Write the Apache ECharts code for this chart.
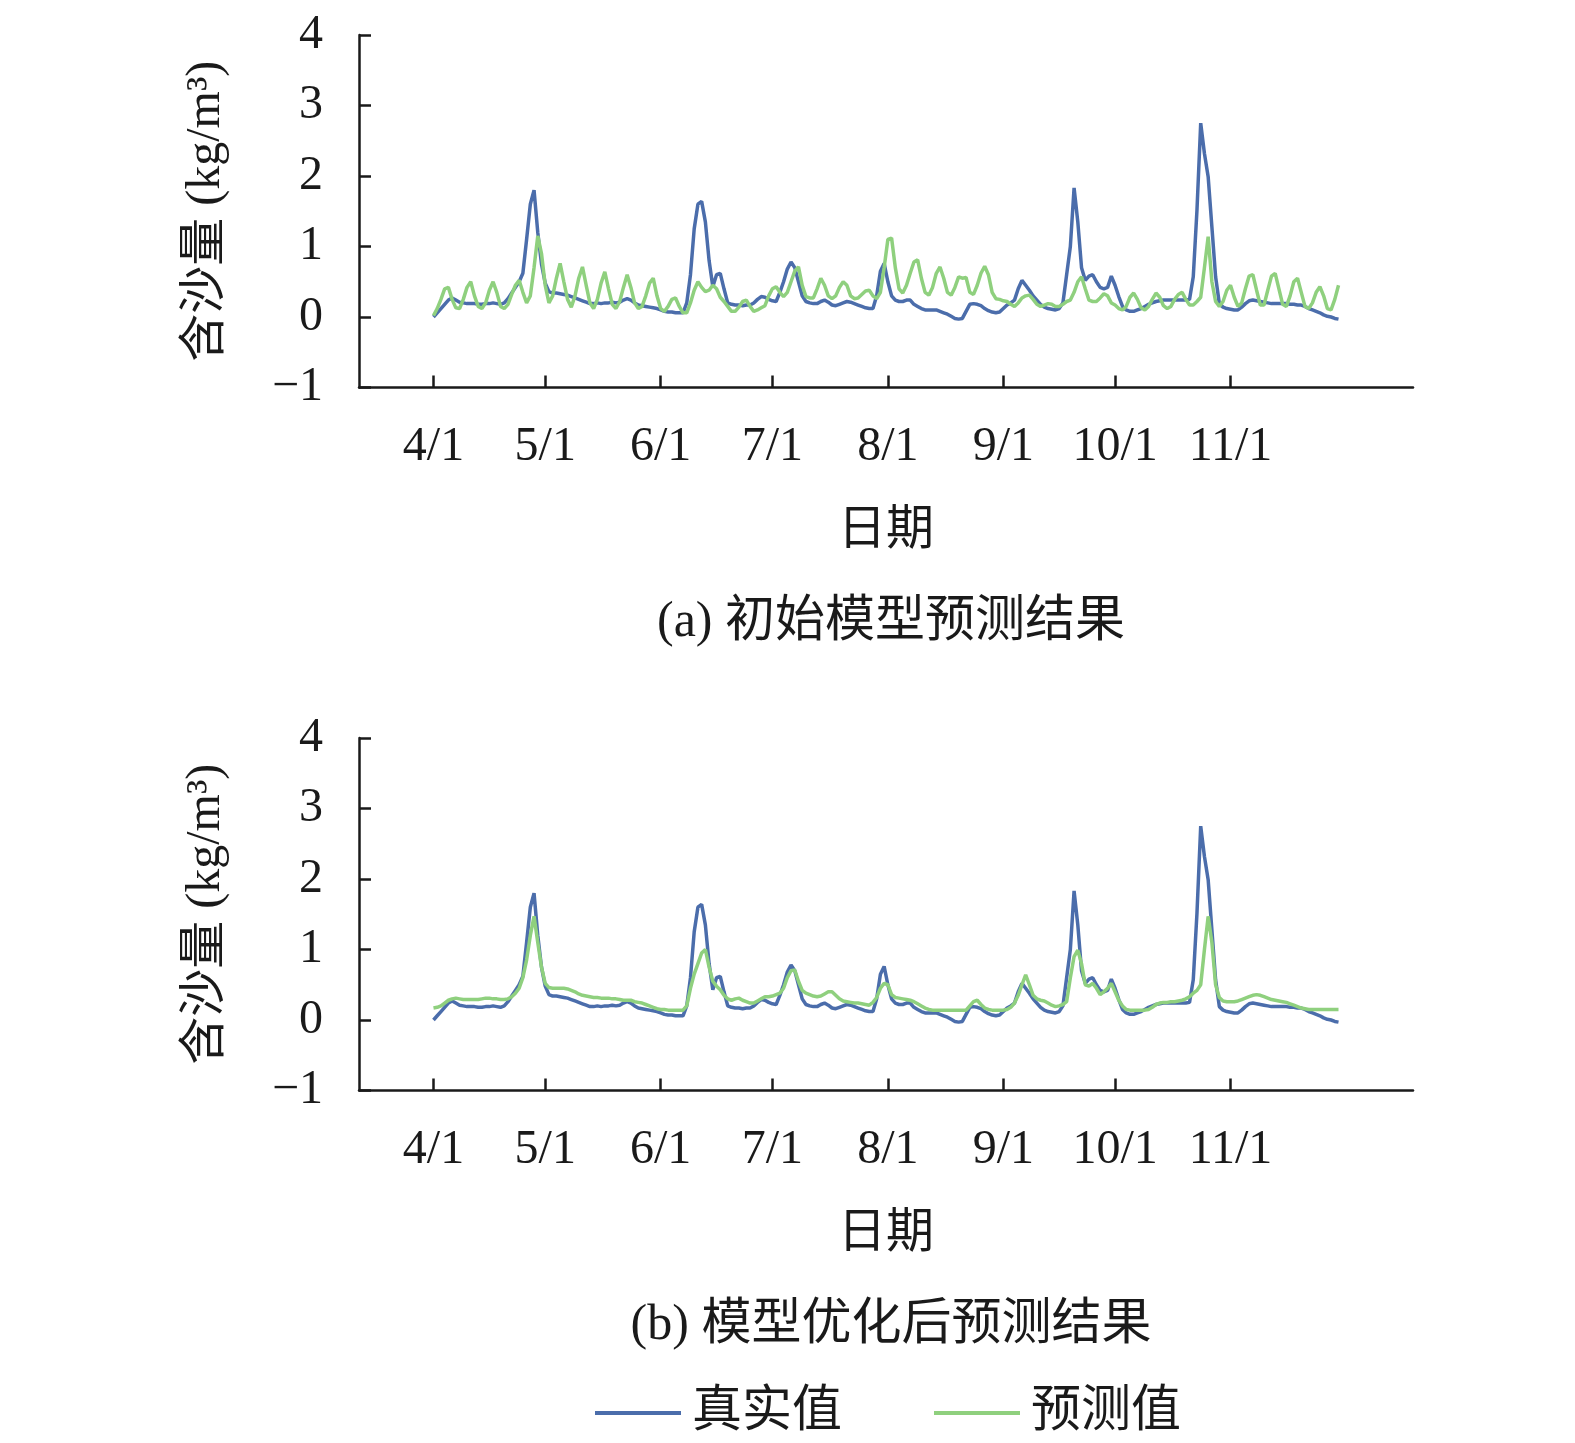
<!DOCTYPE html>
<html lang="zh">
<head>
<meta charset="UTF-8">
<title>含沙量预测结果</title>
<script src="https://cdn.jsdelivr.net/npm/echarts@6.0.0/dist/echarts.min.js"></script>
<style>
  html, body { margin: 0; padding: 0; background: #fff; }
  #chart { width: 1575px; height: 1443px; }
</style>
</head>
<body>
<div id="chart"></div>
<script>
// daily values, 4/1 .. 11/30 (244 days)
var realValues = [
  0.0, 0.06, 0.12, 0.18, 0.24, 0.27, 0.24, 0.21, 0.2, 0.19,
  0.19, 0.19, 0.18, 0.18, 0.19, 0.19, 0.2, 0.19, 0.18, 0.2,
  0.26, 0.34, 0.42, 0.5, 0.62, 1.1, 1.6, 1.8, 1.2, 0.75,
  0.48, 0.36, 0.34, 0.34, 0.33, 0.32, 0.31, 0.29, 0.27, 0.25,
  0.23, 0.21, 0.19, 0.19, 0.2, 0.19, 0.2, 0.2, 0.21, 0.2,
  0.21, 0.24, 0.26, 0.24, 0.2, 0.17, 0.16, 0.15, 0.14, 0.13,
  0.12, 0.1, 0.08, 0.07, 0.07, 0.06, 0.06, 0.06, 0.2, 0.6,
  1.25, 1.6, 1.64, 1.35, 0.8, 0.43, 0.6, 0.62, 0.4, 0.2,
  0.18, 0.17, 0.17, 0.16, 0.17, 0.17, 0.2, 0.25, 0.29, 0.28,
  0.25, 0.23, 0.22, 0.35, 0.5, 0.68, 0.78, 0.7, 0.5, 0.3,
  0.22, 0.2, 0.19, 0.19, 0.22, 0.24, 0.21, 0.17, 0.16, 0.18,
  0.2, 0.22, 0.21, 0.19, 0.17, 0.15, 0.13, 0.12, 0.12, 0.3,
  0.65, 0.76, 0.5, 0.3, 0.24, 0.22, 0.22, 0.24, 0.24, 0.18,
  0.15, 0.12, 0.1, 0.1, 0.1, 0.1, 0.08, 0.06, 0.04, 0.01,
  -0.02, -0.03, -0.02, 0.08, 0.18, 0.19, 0.18, 0.16, 0.12, 0.09,
  0.07, 0.06, 0.07, 0.12, 0.17, 0.2, 0.24, 0.4, 0.52, 0.45,
  0.38, 0.3, 0.24, 0.18, 0.14, 0.12, 0.11, 0.1, 0.12, 0.2,
  0.6, 1.0, 1.83, 1.35, 0.7, 0.52, 0.58, 0.6, 0.5, 0.42,
  0.4, 0.42, 0.58, 0.45, 0.29, 0.15, 0.1, 0.08, 0.08, 0.1,
  0.12, 0.15, 0.18, 0.2, 0.22, 0.23, 0.24, 0.24, 0.24, 0.24,
  0.24, 0.24, 0.24, 0.25, 0.57, 1.52, 2.75, 2.32, 1.99, 1.28,
  0.57, 0.19, 0.14, 0.12, 0.11, 0.1, 0.1, 0.14, 0.19, 0.23,
  0.24, 0.23, 0.22, 0.21, 0.2, 0.19, 0.19, 0.19, 0.19, 0.19,
  0.18, 0.18, 0.17, 0.17, 0.15, 0.12, 0.1, 0.08, 0.06, 0.03,
  0.01, 0.0, -0.02, -0.03
];

var predInitial = [
  0.02, 0.12, 0.25, 0.4, 0.42, 0.25, 0.13, 0.12, 0.25, 0.42,
  0.5, 0.3, 0.15, 0.12, 0.2, 0.38, 0.5, 0.35, 0.15, 0.12,
  0.18, 0.32, 0.45, 0.52, 0.35, 0.2, 0.3, 0.7, 1.15, 0.9,
  0.45, 0.2, 0.3, 0.55, 0.76, 0.5, 0.25, 0.14, 0.3, 0.55,
  0.71, 0.45, 0.2, 0.12, 0.25, 0.48, 0.64, 0.4, 0.18, 0.12,
  0.22, 0.42, 0.6, 0.42, 0.2, 0.12, 0.15, 0.3, 0.48, 0.55,
  0.3, 0.12, 0.08, 0.15, 0.25, 0.27, 0.15, 0.06, 0.06, 0.2,
  0.38, 0.5, 0.42, 0.36, 0.38, 0.45, 0.4, 0.28, 0.22, 0.15,
  0.08, 0.08, 0.14, 0.22, 0.24, 0.15, 0.08, 0.1, 0.13, 0.16,
  0.3, 0.4, 0.43, 0.35, 0.29, 0.35, 0.5, 0.65, 0.71, 0.45,
  0.29, 0.27, 0.27, 0.4, 0.55, 0.45, 0.3, 0.26, 0.3, 0.42,
  0.5, 0.45, 0.3, 0.26, 0.27, 0.32, 0.37, 0.38, 0.3, 0.26,
  0.35, 0.7, 1.1, 1.12, 0.7, 0.4, 0.34, 0.45, 0.62, 0.78,
  0.81, 0.55, 0.35, 0.31, 0.42, 0.62, 0.71, 0.55, 0.35, 0.31,
  0.42, 0.57, 0.55, 0.56, 0.35, 0.32, 0.45, 0.62, 0.72, 0.6,
  0.35, 0.26, 0.25, 0.23, 0.22, 0.18, 0.15, 0.2, 0.27, 0.3,
  0.31, 0.25, 0.18, 0.15, 0.17, 0.19, 0.18, 0.15, 0.15, 0.18,
  0.22, 0.24, 0.35, 0.5, 0.57, 0.4, 0.24, 0.22, 0.22, 0.27,
  0.33, 0.3, 0.2, 0.17, 0.12, 0.1, 0.15, 0.28, 0.34, 0.25,
  0.13, 0.1, 0.15, 0.25, 0.34, 0.28, 0.16, 0.12, 0.15, 0.25,
  0.32, 0.35, 0.25, 0.17, 0.17, 0.22, 0.28, 0.7, 1.14, 0.5,
  0.22, 0.15, 0.22, 0.38, 0.45, 0.28, 0.15, 0.2, 0.4, 0.58,
  0.6, 0.38, 0.17, 0.17, 0.38, 0.58, 0.62, 0.4, 0.18, 0.15,
  0.3, 0.5, 0.55, 0.35, 0.15, 0.12, 0.2, 0.35, 0.43, 0.3,
  0.12, 0.1, 0.25, 0.45
];

var predOptimized = [
  0.17, 0.18, 0.2, 0.24, 0.28, 0.3, 0.31, 0.3, 0.29, 0.29,
  0.29, 0.29, 0.29, 0.3, 0.31, 0.31, 0.3, 0.3, 0.29, 0.29,
  0.3, 0.33, 0.38, 0.45, 0.6, 0.85, 1.2, 1.47, 1.1, 0.75,
  0.52, 0.46, 0.45, 0.45, 0.45, 0.45, 0.44, 0.42, 0.4, 0.37,
  0.35, 0.34, 0.33, 0.32, 0.32, 0.31, 0.31, 0.31, 0.3, 0.3,
  0.29, 0.28, 0.28, 0.28, 0.26, 0.25, 0.24, 0.22, 0.2, 0.18,
  0.16, 0.15, 0.15, 0.14, 0.14, 0.14, 0.14, 0.14, 0.2, 0.45,
  0.65, 0.8, 0.95, 1.0, 0.75, 0.55, 0.48, 0.43, 0.35, 0.3,
  0.28, 0.3, 0.31, 0.28, 0.26, 0.24, 0.24, 0.27, 0.3, 0.33,
  0.33, 0.34, 0.36, 0.38, 0.45, 0.6, 0.7, 0.71, 0.55, 0.42,
  0.38, 0.36, 0.34, 0.33, 0.34, 0.37, 0.4, 0.4, 0.35, 0.3,
  0.27, 0.26, 0.25, 0.24, 0.24, 0.23, 0.22, 0.21, 0.25, 0.32,
  0.45, 0.52, 0.5, 0.36, 0.32, 0.31, 0.3, 0.29, 0.28, 0.26,
  0.23, 0.2, 0.17, 0.15, 0.14, 0.14, 0.14, 0.14, 0.14, 0.14,
  0.14, 0.14, 0.14, 0.14, 0.2, 0.26, 0.28, 0.22, 0.17, 0.15,
  0.14, 0.14, 0.14, 0.14, 0.15, 0.18, 0.24, 0.35, 0.5, 0.64,
  0.5, 0.35, 0.3, 0.28, 0.27, 0.24, 0.21, 0.19, 0.2, 0.22,
  0.26, 0.6, 0.9, 0.99, 0.8, 0.5, 0.48, 0.52, 0.45, 0.36,
  0.4, 0.45, 0.52, 0.4, 0.28, 0.2, 0.15, 0.14, 0.14, 0.14,
  0.14, 0.14, 0.15, 0.18, 0.22, 0.24, 0.25, 0.25, 0.26, 0.26,
  0.27, 0.28, 0.3, 0.33, 0.38, 0.42, 0.5, 1.0, 1.47, 1.1,
  0.5, 0.32, 0.27, 0.26, 0.26, 0.26, 0.27, 0.29, 0.31, 0.33,
  0.35, 0.36, 0.35, 0.33, 0.31, 0.29, 0.28, 0.27, 0.26, 0.25,
  0.23, 0.21, 0.19, 0.17, 0.16, 0.15, 0.15, 0.15, 0.15, 0.15,
  0.15, 0.15, 0.15, 0.15
];

var monthLabels = ['4/1', '5/1', '6/1', '7/1', '8/1', '9/1', '10/1', '11/1'];
var seriesNames = ['真实值', '预测值'];
var captions = ['(a) 初始模型预测结果', '(b) 模型优化后预测结果'];

// axis runs from 3/12 to 12/20 so the data sits where it does in the figure
var padBefore = 20, padAfter = 20;
var dates = [];
var start = Date.UTC(2021, 2, 12);
for (var i = 0; i < padBefore + realValues.length + padAfter; i++) {
  var d = new Date(start + i * 86400000);
  dates.push((d.getUTCMonth() + 1) + '/' + d.getUTCDate());
}

function pad(arr) {
  var out = [];
  for (var i = 0; i < padBefore; i++) out.push('-');
  out = out.concat(arr);
  for (var j = 0; j < padAfter; j++) out.push('-');
  return out;
}

function isMonthTick(idx, value) {
  return monthLabels.indexOf(value) >= 0;
}

var font = "'Liberation Serif', 'Noto Sans CJK SC', serif";
var ink = '#1a1a1a';
var blue = '#4b6dab';
var green = '#8fd07e';
var gridTops = [35, 738];

var grids = [], xAxes = [], yAxes = [], series = [], titles = [];
gridTops.forEach(function (top, k) {
  grids.push({ left: 359, top: top, width: 1054, height: 352.5, outerBoundsMode: 'none', containLabel: false });
  xAxes.push({
    type: 'category',
    gridIndex: k,
    data: dates,
    boundaryGap: false,
    axisLine: { onZero: false, lineStyle: { color: ink, width: 2.5 } },
    axisTick: { inside: true, length: 12, interval: isMonthTick, lineStyle: { color: ink, width: 2.5 } },
    axisLabel: { interval: isMonthTick, margin: 36, fontSize: 48, color: ink, fontFamily: font },
    name: '日期',
    nameLocation: 'middle',
    nameGap: 120,
    nameTextStyle: { fontSize: 48, color: ink, fontFamily: font }
  });
  yAxes.push({
    type: 'value',
    gridIndex: k,
    min: -1,
    max: 4,
    interval: 1,
    axisLine: { show: true, lineStyle: { color: ink, width: 2.5 } },
    axisTick: { show: true, inside: true, length: 12, lineStyle: { color: ink, width: 2.5 } },
    splitLine: { show: false },
    axisLabel: {
      margin: 36, fontSize: 48, color: ink, fontFamily: font,
      formatter: function (v) { return String(v).replace('-', '\u2212'); }
    },
    name: '含沙量 (kg/m³)',
    nameLocation: 'middle',
    nameRotate: 90,
    nameGap: 129,
    nameTextStyle: { fontSize: 48, color: ink, fontFamily: font }
  });
  series.push({
    name: seriesNames[0], type: 'line', xAxisIndex: k, yAxisIndex: k,
    data: pad(realValues), symbol: 'none', color: blue,
    lineStyle: { width: 3.5, color: blue }
  });
  series.push({
    name: seriesNames[1], type: 'line', xAxisIndex: k, yAxisIndex: k,
    data: pad(k === 0 ? predInitial : predOptimized), symbol: 'none', color: green,
    lineStyle: { width: 3.5, color: green }
  });
  titles.push({
    text: captions[k],
    left: 886,
    top: top + 558,
    textAlign: 'center',
    textStyle: { fontSize: 50, fontWeight: 'normal', color: ink, fontFamily: font }
  });
});

var chart = echarts.init(document.getElementById('chart'));
chart.setOption({
  backgroundColor: '#fff',
  animation: false,
  title: titles,
  legend: {
    data: seriesNames,
    icon: 'rect',
    left: 595,
    top: 1388,
    itemWidth: 86,
    itemHeight: 4,
    itemGap: 92,
    padding: 0,
    textStyle: { fontSize: 50, color: ink, fontFamily: font, padding: [0, 0, 0, 6] }
  },
  grid: grids,
  xAxis: xAxes,
  yAxis: yAxes,
  series: series
});
</script>
</body>
</html>
